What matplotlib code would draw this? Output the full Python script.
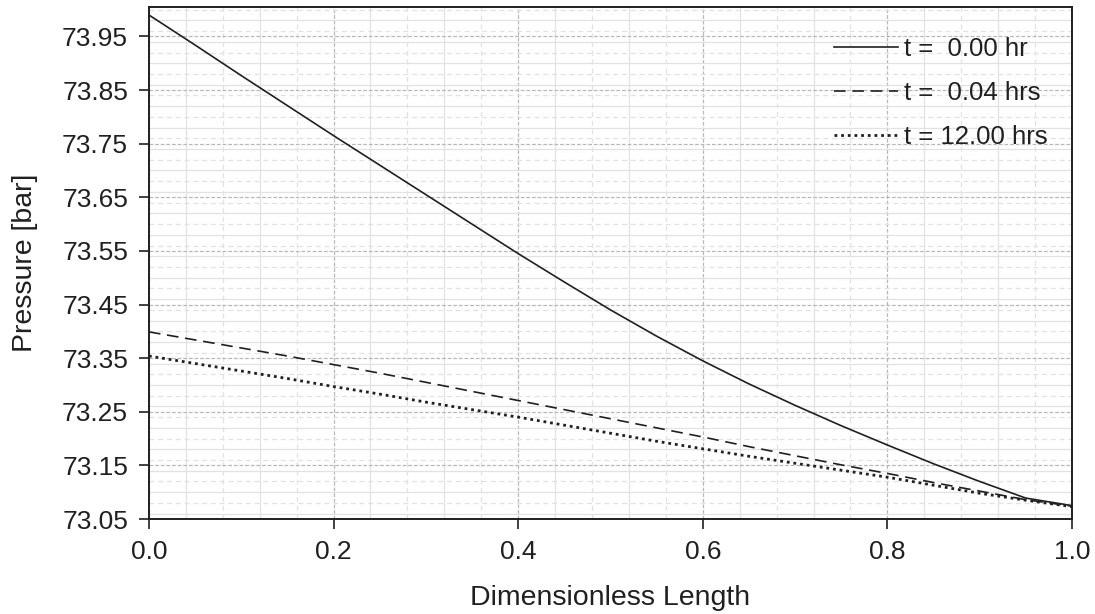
import numpy as np
import matplotlib.pyplot as plt
from matplotlib.ticker import MultipleLocator, FixedLocator

plt.rcParams['font.family'] = ['Liberation Sans', 'DejaVu Sans']

# Data
length = [0.0, 0.05, 0.1, 0.15, 0.2, 0.25, 0.3, 0.35, 0.4, 0.45, 0.5,
          0.55, 0.6, 0.65, 0.7, 0.75, 0.8, 0.85, 0.9, 0.95, 1.0]
p_t0 = [73.990, 73.934, 73.877, 73.821, 73.765, 73.710, 73.655, 73.600,
        73.545, 73.492, 73.440, 73.391, 73.345, 73.302, 73.262, 73.224,
        73.188, 73.153, 73.120, 73.089, 73.075]
p_t004 = [73.399, 73.384, 73.369, 73.354, 73.338, 73.322, 73.305, 73.288,
          73.271, 73.254, 73.237, 73.220, 73.203, 73.185, 73.168, 73.151,
          73.135, 73.118, 73.102, 73.086, 73.074]
p_t12 = [73.354, 73.340, 73.326, 73.312, 73.297, 73.283, 73.268, 73.254,
         73.240, 73.225, 73.210, 73.195, 73.181, 73.167, 73.154, 73.141,
         73.128, 73.113, 73.098, 73.085, 73.073]
labels = ['t =  0.00 hr', 't =  0.04 hrs', 't = 12.00 hrs']

y_ticks = np.round(np.arange(73.05, 73.96, 0.1), 2)
x_ticks = np.round(np.arange(0.0, 1.01, 0.2), 1)

fig = plt.figure(figsize=(10.95, 6.14), dpi=100)
ax = fig.add_axes([0.136, 0.1547, 0.843, 0.834])

ax.plot(length, p_t0, color='#202020', lw=1.2, ls='-', label=labels[0])
ax.plot(length, p_t004, color='#202020', lw=1.2, ls=(0, (7, 4)), label=labels[1])
ax.plot(length, p_t12, color='#202020', lw=2.0, ls=(0, (1, 1.4)), label=labels[2])

ax.set_xlim(0.0, 1.0)
ax.set_ylim(73.05, 74.005)
ax.xaxis.set_major_locator(FixedLocator(x_ticks))
ax.yaxis.set_major_locator(FixedLocator(y_ticks))
ax.xaxis.set_major_formatter(plt.FuncFormatter(lambda v, p: f'{v:.1f}'))
ax.yaxis.set_major_formatter(plt.FuncFormatter(lambda v, p: f'{v:.2f}'))
ax.xaxis.set_minor_locator(MultipleLocator(0.04))
ax.yaxis.set_minor_locator(MultipleLocator(0.02))

# grid: darker dotted majors, light alternating minors
ax.set_axisbelow(True)
ax.grid(which='major', color='#b8b8b8', lw=0.9, ls=(0, (3, 1.5)))
ax.grid(which='minor', color='#e2e2e2', lw=0.9, ls='-')
fig.canvas.draw()
for i, t in enumerate(ax.yaxis.get_minor_ticks()):
    if i % 2 == 0:
        t.gridline.set_linestyle((0, (4, 3)))
for i, t in enumerate(ax.xaxis.get_minor_ticks()):
    if i % 2 == 0:
        t.gridline.set_linestyle((0, (4, 3)))

ax.tick_params(which='major', direction='out', length=7, width=1.2,
               labelsize=19, colors='#202020', pad=8)
ax.tick_params(which='minor', length=0)
for s in ax.spines.values():
    s.set_linewidth(1.4)
    s.set_color('#202020')

ax.set_xlabel('Dimensionless Length', fontsize=20.5, color='#202020', labelpad=15)
ax.set_ylabel('Pressure [bar]', fontsize=20.5, color='#202020', labelpad=17)

ax.legend(loc='upper right', bbox_to_anchor=(0.985, 0.962), frameon=False,
          fontsize=18.5, handlelength=2.5, handletextpad=0.23, labelspacing=0.79,
          borderaxespad=0, labelcolor='#202020')

fig.savefig('out.png', dpi=100)
